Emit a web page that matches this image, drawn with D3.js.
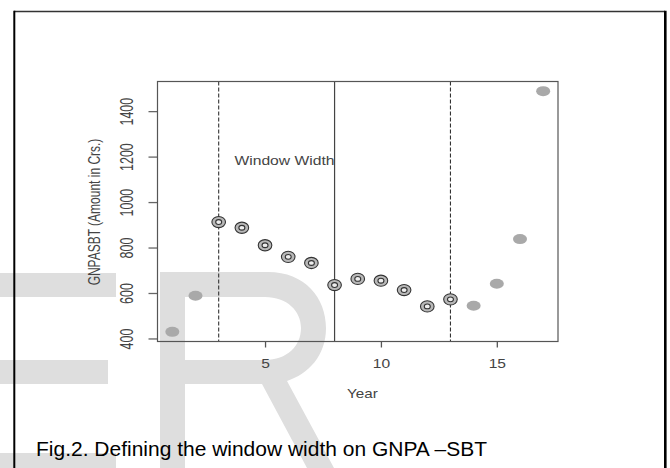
<!DOCTYPE html>
<html lang="en">
<head>
    <meta charset="UTF-8">
    <title>Fig.2 Window width on GNPA - SBT</title>
    <style>
        body {
            margin: 0;
            background: #fff;
            font-family: "Liberation Sans", Arial, sans-serif;
        }
        svg { display: block; }
    </style>
    <script src="https://d3js.org/d3.v7.min.js"></script>
</head>
<body>
    <div id="chart"></div>

    <script>
        // data
        const years = [1, 2, 3, 4, 5, 6, 7, 8, 9, 10, 11, 12, 13, 14, 15, 16, 17];
        const gnpa = [429, 588, 912, 887, 810, 759, 732, 635, 662, 654, 613, 541, 572, 544, 641, 837, 1488];
        const xTicks = [5, 10, 15];
        const yTicks = [400, 600, 800, 1000, 1200, 1400];
        const windowStart = 3;
        const windowCentre = 8;
        const windowEnd = 13;

        const data = years.map((yr, i) => ({year: yr, value: gnpa[i]}));

        const W = 670, H = 468;
        const plot = {left: 157.5, right: 558, top: 81.5, bottom: 341.5};

        const svg = d3.select("#chart")
            .append("svg")
            .attr("width", W)
            .attr("height", H);

        // light watermark letters in the background
        const wm = svg.append("g").attr("fill", "#dedede");
        wm.append("rect").attr("x", 0).attr("y", 273).attr("width", 116).attr("height", 24);
        wm.append("rect").attr("x", 0).attr("y", 360).attr("width", 108).attr("height", 24);
        wm.append("rect").attr("x", 0).attr("y", 453).attr("width", 116).attr("height", 15);
        wm.append("path")
            .attr("fill-rule", "evenodd")
            .attr("d", "M160,272 H268 C305,272 326,298 326,328 C326,356 308,374 287,381 L334,468 H307 L262,384 H185 V468 H160 Z " +
                       "M185,297 H265 C287,297 301,311 301,328 C301,346 287,360 265,360 H185 Z");

        // page frame
        svg.append("line").attr("x1", 14).attr("x2", 665).attr("y1", 11.5).attr("y2", 11.5)
            .attr("stroke", "#333").attr("stroke-width", 1.6);
        svg.append("line").attr("x1", 14.3).attr("x2", 14.3).attr("y1", 10.7).attr("y2", H)
            .attr("stroke", "#000").attr("stroke-width", 2);
        svg.append("line").attr("x1", 665.3).attr("x2", 665.3).attr("y1", 10.7).attr("y2", H)
            .attr("stroke", "#000").attr("stroke-width", 2.6);

        // R style ranges: 4% padding on each side
        const xExt = d3.extent(years), yExt = d3.extent(gnpa);
        const xPad = (xExt[1] - xExt[0]) * 0.04, yPad = (yExt[1] - yExt[0]) * 0.04;
        const x = d3.scaleLinear().domain([xExt[0] - xPad, xExt[1] + xPad]).range([plot.left, plot.right]);
        const y = d3.scaleLinear().domain([yExt[0] - yPad, yExt[1] + yPad]).range([plot.bottom, plot.top]);

        // y axis
        const yAxis = svg.append("g")
            .attr("transform", `translate(${plot.left},0)`)
            .call(d3.axisLeft(y).tickValues(yTicks).tickFormat(d3.format("d")).tickSize(9).tickSizeOuter(0));
        yAxis.select(".domain").remove();
        yAxis.selectAll(".tick line").attr("stroke", "#666").attr("stroke-width", 1.3);
        yAxis.selectAll(".tick text")
            .attr("x", 0)
            .attr("dy", "0.36em")
            .attr("transform", "translate(-31.5,0) scale(1.45,1) rotate(-90)")
            .attr("text-anchor", "middle")
            .attr("fill", "#444")
            .style("font-family", "'Liberation Sans', Arial, sans-serif")
            .style("font-size", "12.5px");

        // x axis
        const xAxis = svg.append("g")
            .attr("transform", `translate(0,${plot.bottom})`)
            .call(d3.axisBottom(x).tickValues(xTicks).tickFormat(d3.format("d")).tickSize(6).tickSizeOuter(0));
        xAxis.select(".domain").remove();
        xAxis.selectAll(".tick line").attr("stroke", "#555").attr("stroke-width", 1.3);
        xAxis.selectAll(".tick text")
            .attr("y", 0)
            .attr("dy", "0.36em")
            .attr("transform", "translate(0,21.5) scale(1.2,1)")
            .attr("fill", "#444")
            .style("font-family", "'Liberation Sans', Arial, sans-serif")
            .style("font-size", "13px");

        // axis titles
        svg.append("text")
            .attr("transform", `translate(${x(9.2)},393) scale(1.17,1)`)
            .attr("text-anchor", "middle")
            .attr("dy", "0.36em")
            .attr("fill", "#444")
            .style("font-size", "13px")
            .text("Year");

        svg.append("text")
            .attr("transform", "translate(94,212) scale(1.4,1) rotate(-90)")
            .attr("text-anchor", "middle")
            .attr("dy", "0.36em")
            .attr("fill", "#444")
            .style("font-size", "12px")
            .text("GNPASBT (Amount in Crs.)");

        // window boundaries
        [windowStart, windowEnd].forEach(v => {
            svg.append("line")
                .attr("x1", x(v)).attr("x2", x(v))
                .attr("y1", plot.top).attr("y2", plot.bottom)
                .attr("stroke", "#333").attr("stroke-width", 1.1)
                .attr("stroke-dasharray", "4,2");
        });
        svg.append("line")
            .attr("x1", x(windowCentre)).attr("x2", x(windowCentre))
            .attr("y1", plot.top).attr("y2", plot.bottom)
            .attr("stroke", "#444").attr("stroke-width", 1.2);

        svg.append("text")
            .attr("x", x(3.68))
            .attr("y", y(1182))
            .attr("dy", "0.36em")
            .attr("textLength", 100)
            .attr("lengthAdjust", "spacingAndGlyphs")
            .attr("fill", "#444")
            .style("font-size", "13px")
            .text("Window Width");

        // points outside the window: plain grey dots
        const outside = data.filter(d => d.year < windowStart || d.year > windowEnd);
        const inside = data.filter(d => d.year >= windowStart && d.year <= windowEnd);

        svg.selectAll("ellipse.out")
            .data(outside)
            .enter()
            .append("ellipse")
            .attr("class", "out")
            .attr("cx", d => x(d.year))
            .attr("cy", d => y(d.value))
            .attr("rx", 7)
            .attr("ry", 5)
            .attr("fill", "#a9a9a9");

        // points in the window: ringed markers
        const ring = svg.selectAll("g.in")
            .data(inside)
            .enter()
            .append("g")
            .attr("class", "in")
            .attr("transform", d => `translate(${x(d.year)},${y(d.value)})`);
        ring.append("ellipse")
            .attr("rx", 6.8).attr("ry", 5.6)
            .attr("fill", "#b8b8b8")
            .attr("stroke", "#333").attr("stroke-width", 1.1);
        ring.append("ellipse")
            .attr("rx", 3).attr("ry", 2.4)
            .attr("fill", "#eee")
            .attr("stroke", "#333").attr("stroke-width", 1.1);

        // plot box
        svg.append("rect")
            .attr("x", plot.left).attr("y", plot.top)
            .attr("width", plot.right - plot.left)
            .attr("height", plot.bottom - plot.top)
            .attr("fill", "none")
            .attr("stroke", "#555")
            .attr("stroke-width", 1.2);

        // caption
        svg.append("text")
            .attr("x", 36)
            .attr("y", 456)
            .attr("textLength", 451)
            .attr("lengthAdjust", "spacingAndGlyphs")
            .attr("fill", "#000")
            .style("font-size", "20.5px")
            .text("Fig.2. Defining the window width on GNPA \u2013SBT");
    </script>
</body>
</html>
